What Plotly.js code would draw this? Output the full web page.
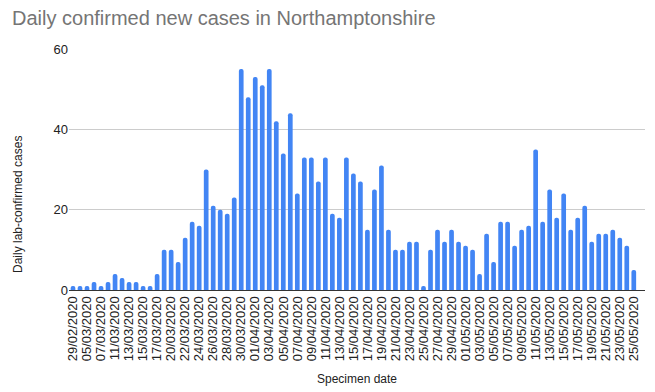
<!DOCTYPE html>
<html>
<head>
<meta charset="utf-8">
<script src="https://cdn.plot.ly/plotly-3.0.1.min.js"></script>
<style>html,body{margin:0;padding:0;background:#fff;}#chart{width:655px;height:392px;}</style>
</head>
<body>
<div id="chart"></div>
<script>
const dates = [
  "29/02/2020","03/03/2020","05/03/2020","06/03/2020","07/03/2020","09/03/2020","11/03/2020","12/03/2020",
  "13/03/2020","14/03/2020","15/03/2020","16/03/2020","17/03/2020","18/03/2020","20/03/2020","21/03/2020",
  "22/03/2020","23/03/2020","24/03/2020","25/03/2020","26/03/2020","27/03/2020","28/03/2020","29/03/2020",
  "30/03/2020","31/03/2020","01/04/2020","02/04/2020","03/04/2020","04/04/2020","05/04/2020","06/04/2020",
  "07/04/2020","08/04/2020","09/04/2020","10/04/2020","11/04/2020","12/04/2020","13/04/2020","14/04/2020",
  "15/04/2020","16/04/2020","17/04/2020","18/04/2020","19/04/2020","20/04/2020","21/04/2020","22/04/2020",
  "23/04/2020","24/04/2020","25/04/2020","26/04/2020","27/04/2020","28/04/2020","29/04/2020","30/04/2020",
  "01/05/2020","02/05/2020","03/05/2020","04/05/2020","05/05/2020","06/05/2020","07/05/2020","08/05/2020",
  "09/05/2020","10/05/2020","11/05/2020","12/05/2020","13/05/2020","14/05/2020","15/05/2020","16/05/2020",
  "17/05/2020","18/05/2020","19/05/2020","20/05/2020","21/05/2020","22/05/2020","23/05/2020","24/05/2020",
  "25/05/2020"
];
const cases = [
  1,1,1,2,1,2,4,3,
  2,2,1,1,4,10,10,7,
  13,17,16,30,21,20,19,23,
  55,48,53,51,55,42,34,44,
  24,33,33,27,33,19,18,33,
  29,27,15,25,31,15,10,10,
  12,12,1,10,15,12,15,12,
  11,10,4,14,7,17,17,11,
  15,16,35,17,25,18,24,15,
  18,21,12,14,14,15,13,11,
  5
];
const tickLabels = dates.filter((d, i) => i % 2 === 0);
const yTicks = [0, 20, 40, 60];

const trace = {
  type: 'bar',
  x: dates,
  y: cases,
  marker: {color: '#4285F4', cornerradius: 2},
  hoverinfo: 'x+y'
};

const layout = {
  width: 655, height: 392,
  margin: {l: 69, r: 10, t: 49, b: 102},
  paper_bgcolor: '#ffffff', plot_bgcolor: '#ffffff',
  bargap: 0.33,
  showlegend: false,
  font: {family: 'Liberation Sans, Arial, sans-serif', color: '#222222'},
  title: {
    text: 'Daily confirmed new cases in Northamptonshire',
    x: 12/655, xanchor: 'left', xref: 'container',
    y: 1 - 18/392, yanchor: 'middle', yref: 'container',
    font: {size: 20, color: '#757575', family: 'Liberation Sans, Arial, sans-serif'}
  },
  xaxis: {
    type: 'category',
    range: [-0.57, 81.6],
    tickmode: 'array', tickvals: tickLabels, ticktext: tickLabels,
    tickangle: -90,
    tickfont: {size: 13, color: '#222222'},
    ticks: '', showgrid: false,
    showline: true, linecolor: '#333333', linewidth: 1,
    zeroline: false,
    title: {text: 'Specimen date', font: {size: 12, color: '#222222'}, standoff: 14}
  },
  yaxis: {
    range: [0, 60],
    tickmode: 'array', tickvals: yTicks,
    tickfont: {size: 13, color: '#222222'},
    ticks: '', ticklen: 0,
    showgrid: true, gridcolor: '#cccccc', gridwidth: 1,
    zeroline: false, showline: false
  },
  annotations: [{
    text: 'Daily lab-confirmed cases',
    textangle: -90,
    xref: 'paper', yref: 'paper',
    x: 0, xshift: -51, xanchor: 'center',
    y: (290 - 205) / 241, yanchor: 'middle',
    showarrow: false,
    font: {size: 12, color: '#222222'}
  }]
};

Plotly.newPlot('chart', [trace], layout, {displayModeBar: false, staticPlot: true});
</script>
</body>
</html>
